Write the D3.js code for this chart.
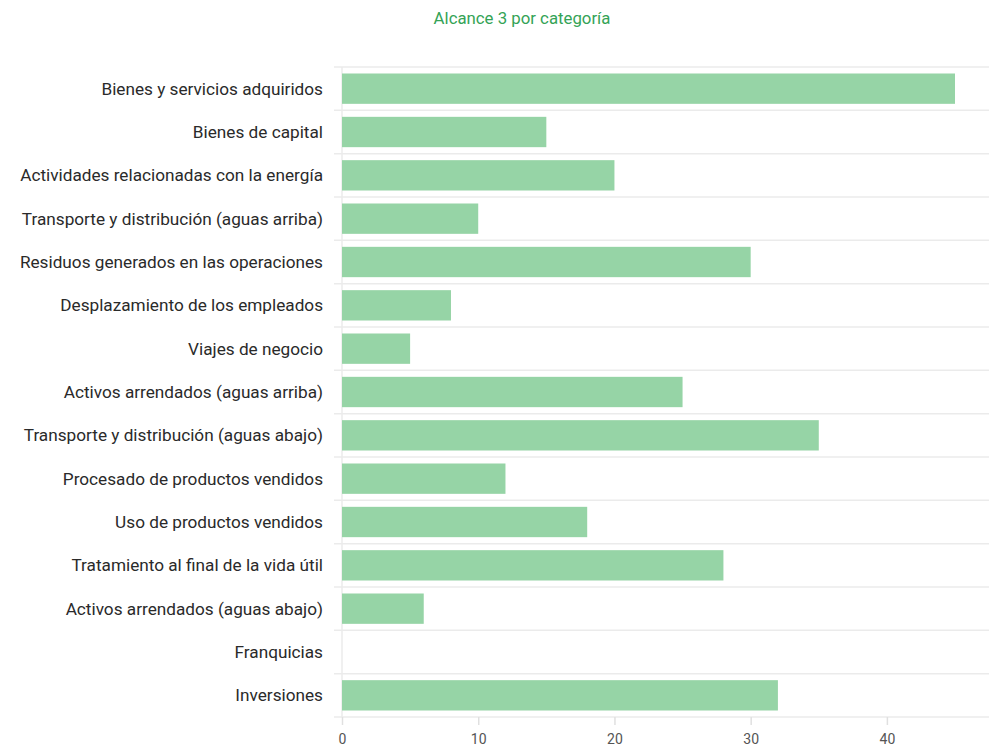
<!DOCTYPE html>
<html>
<head>
<meta charset="utf-8">
<script src="https://cdn.jsdelivr.net/npm/d3@7"></script>
<style>
  body { margin: 0; background: #fff; font-family: Roboto, sans-serif; }
</style>
</head>
<body>
<svg width="989" height="748"></svg>
<script>
var categories = [
  'Bienes y servicios adquiridos',
  'Bienes de capital',
  'Actividades relacionadas con la energía',
  'Transporte y distribución (aguas arriba)',
  'Residuos generados en las operaciones',
  'Desplazamiento de los empleados',
  'Viajes de negocio',
  'Activos arrendados (aguas arriba)',
  'Transporte y distribución (aguas abajo)',
  'Procesado de productos vendidos',
  'Uso de productos vendidos',
  'Tratamiento al final de la vida útil',
  'Activos arrendados (aguas abajo)',
  'Franquicias',
  'Inversiones'
];
var values = [45, 15, 20, 10, 30, 8, 5, 25, 35, 12, 18, 28, 6, 0, 32];
var xTicks = [0, 10, 20, 30, 40];
var title = 'Alcance 3 por categoría';

var svg = d3.select('svg');

var x = d3.scaleLinear().domain([0, 45]).range([342, 955]);
var y = d3.scaleBand().domain(categories).range([67, 717]).paddingInner(0.3).paddingOuter(0.15);

// horizontal grid lines at band edges
var edges = categories.map(function(c) { return y(c) - y.step() * y.paddingInner() / 2; });
edges.push(717);

svg.append('g')
  .selectAll('line')
  .data(edges)
  .enter().append('line')
  .attr('x1', 334)
  .attr('x2', 989)
  .attr('y1', function(d) { return d; })
  .attr('y2', function(d) { return d; })
  .attr('stroke', '#ebebeb')
  .attr('stroke-width', 1.5);

// vertical axis line
svg.append('line')
  .attr('x1', x(0)).attr('x2', x(0))
  .attr('y1', 67).attr('y2', 717)
  .attr('stroke', '#ebebeb')
  .attr('stroke-width', 1.5);

// bars
svg.append('g')
  .selectAll('rect')
  .data(values)
  .enter().append('rect')
  .attr('x', x(0))
  .attr('y', function(d, i) { return y(categories[i]); })
  .attr('width', function(d) { return x(d) - x(0); })
  .attr('height', y.bandwidth())
  .attr('fill', '#96d4a6');

// category labels
svg.append('g')
  .selectAll('text')
  .data(categories)
  .enter().append('text')
  .attr('x', 323)
  .attr('y', function(d) { return y(d) + y.bandwidth() / 2; })
  .attr('dy', '0.35em')
  .attr('text-anchor', 'end')
  .attr('font-size', 17.2)
  .attr('fill', '#2a2a2a')
  .text(function(d) { return d; });

// x axis
var xAxis = d3.axisBottom(x).tickValues(xTicks).tickSize(8).tickPadding(9);
var gx = svg.append('g')
  .attr('transform', 'translate(0,717)')
  .call(xAxis);
gx.select('.domain').remove();
gx.selectAll('.tick line').attr('stroke', '#e0e0e0').attr('stroke-width', 1.5);
gx.selectAll('.tick text')
  .attr('font-family', 'Roboto, sans-serif')
  .attr('font-size', 14)
  .attr('fill', '#555');

// title
svg.append('text')
  .attr('x', 522)
  .attr('y', 24)
  .attr('text-anchor', 'middle')
  .attr('font-size', 16.8)
  .attr('fill', '#34a356')
  .text(title);
</script>
</body>
</html>
